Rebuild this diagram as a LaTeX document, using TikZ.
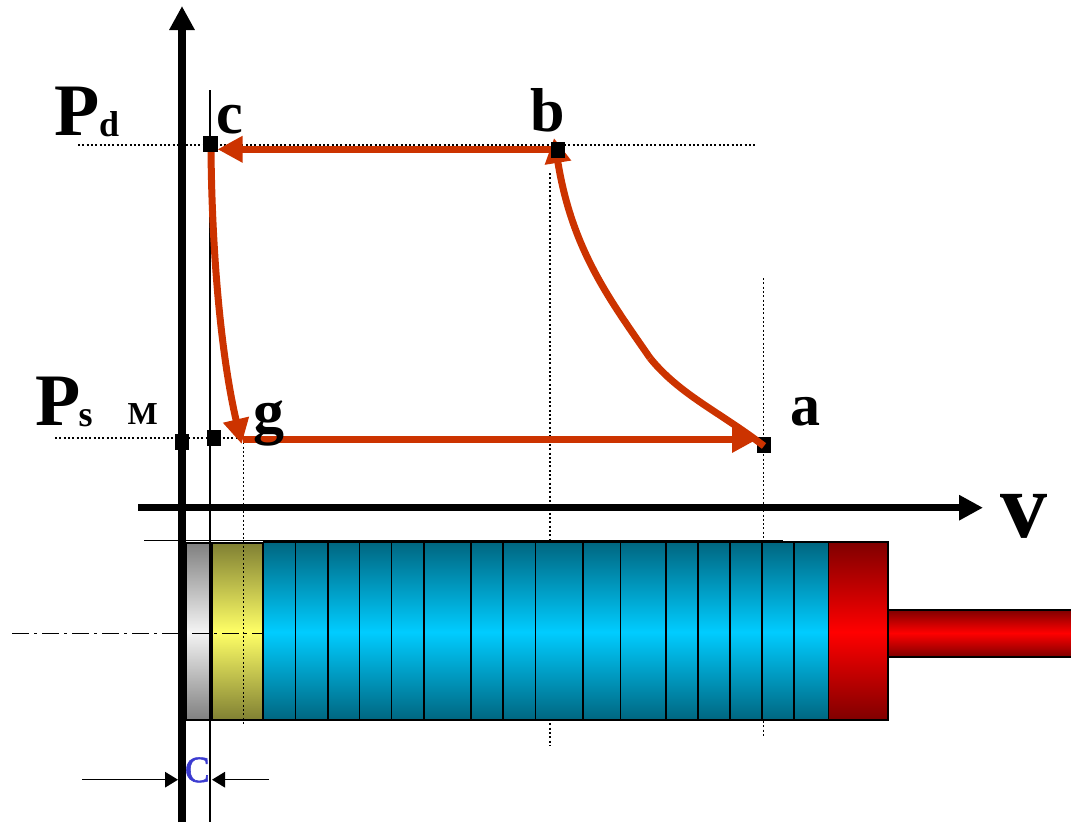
\documentclass[tikz,border=0pt]{standalone}
\usepackage{fontspec}
\setmainfont{Liberation Serif}
\newfontfamily\capfont[FakeBold=1.6]{Liberation Serif}
\usetikzlibrary{arrows.meta}
\definecolor{redline}{HTML}{CC3300}
\definecolor{labelblue}{HTML}{3B3BD0}
\definecolor{tealedge}{HTML}{006680}
\definecolor{tealmid}{HTML}{00CCFF}
\definecolor{yeledge}{HTML}{808033}
\definecolor{yelmid}{HTML}{FFFF66}
\definecolor{rededge}{HTML}{800000}
\definecolor{redmid}{HTML}{FF0000}
\definecolor{grayedge}{HTML}{808080}
\definecolor{graymid}{HTML}{F4F4F4}
\tikzset{
  lab/.style={inner sep=0pt,outer sep=0pt,anchor=base west,font=\bfseries\fontsize{#1}{#1}\selectfont},
  pointbox/.style={fill=black,inner sep=0pt,outer sep=0pt,minimum width=14.5pt,minimum height=16pt},
  axisline/.style={line width=7.4pt,-{Triangle[length=24pt,width=24pt]}},
  cycle line/.style={draw=redline,line width=7pt,-{Triangle[length=25pt,width=25pt]}},
  dotline/.style={line width=1.6pt,dash pattern=on 2pt off 2.3pt},
  thin line/.style={line width=1.5pt},
  dim line/.style={line width=1.5pt,-{Triangle[length=13pt,width=15.5pt]}},
}
\newcommand{\band}[5]{% x0, x1, y0, edge colour, mid colour
  \shade[top color=#4,bottom color=#5] (#1,#3) rectangle (#2,632);
  \shade[top color=#5,bottom color=#4] (#1,632) rectangle (#2,720);
  \draw[line width=1.7pt] (#1,#3) rectangle (#2,720);
}
\begin{document}
\begin{tikzpicture}[x=1pt,y=-1pt]
\useasboundingbox (0,0) rectangle (1071,822);
% named points
\coordinate (dpL) at (78,145);   \coordinate (dpR) at (757,145);
\coordinate (spL) at (55,438);   \coordinate (spR) at (243.5,438);
\coordinate (gB)  at (243.5,725);
\coordinate (bT)  at (550,173);  \coordinate (bB)  at (550,745);
\coordinate (aT)  at (763.5,278);\coordinate (aB)  at (763.5,737);
\coordinate (cT)  at (210,90);   \coordinate (cB)  at (210,822);
\coordinate (pL)  at (144,540.5);\coordinate (pR)  at (783,540.5);
\coordinate (clL) at (12,633.5); \coordinate (clR) at (263,633.5);
\coordinate (pyB) at (182,822);  \coordinate (pyT) at (182,6);
\coordinate (vL)  at (138,507.7);\coordinate (vR)  at (983,507.7);
\coordinate (dl)  at (82,779.7); \coordinate (dlT) at (178,779.7);
\coordinate (dr)  at (269,779.7);\coordinate (drT) at (212,779.7);
% guides behind the cylinder
\draw[dotline] (dpL) -- (dpR);
\draw[dotline] (spL) -- (spR);
\draw[dotline] (bT) -- (bB);
\draw[dotline] (aT) -- (aB);
\draw[thin line] (pL) -- (pR);
% rod
\shade[top color=rededge,bottom color=redmid] (887,610) rectangle (1071,633);
\shade[top color=redmid,bottom color=rededge] (887,633) rectangle (1071,656.7);
\draw[line width=1.7pt] (887,610) -- (1071,610) (887,656.7) -- (1071,656.7);
% cylinder
\band{186}{211}{543}{grayedge}{graymid}
\band{212}{263}{543}{yeledge}{yelmid}
\foreach \xa/\xb in {263.4/295.5,295.5/327.7,327.7/359.4,359.4/391.6,391.6/423.7,423.7/471.2,471.2/503.3,503.3/535.5,535.5/583.3,583.3/620.4,620.4/666,666/697.7,697.7/730,730/762,762/793.8,793.8/828.6}{
  \band{\xa}{\xb}{542}{tealedge}{tealmid}
}
\band{828.6}{887.7}{542}{rededge}{redmid}
% guides over the cylinder
\draw[dotline] (spR) -- (gB);
\draw[line width=1.5pt,dash pattern=on 16.5pt off 5.5pt on 2.5pt off 5.5pt] (clL) -- (clR);
% axes
\draw[axisline] (pyB) -- (pyT);
\draw[axisline] (vL) -- (vR);
\draw[thin line] (cT) -- (cB);
% points under the cycle
\node[pointbox] (ptA) at (764,445) {};
\node[pointbox] (ptM) at (182,442) {};
\node[pointbox] (ptG) at (214,438) {};
\coordinate (aIn) at (757,439.5);
\coordinate (gOut) at (243,439.5);
\coordinate (gTip) at (241.7,444);
\coordinate (bTip) at (554,138);
\coordinate (aOut) at (764,446);
\coordinate (abMid) at (650,358);
\coordinate (cOut) at (211,150);
\coordinate (bOut) at (556,149.3);
\coordinate (cIn) at (217.5,149.3);
% cycle
\draw[cycle line] (bOut) -- (cIn);
\draw[cycle line] (gOut) -- (aIn);
\draw[cycle line] (cOut) .. controls (212,260) and (222,360) .. (gTip);
\draw[draw=redline,line width=7pt] (aOut) .. controls (720,412) and (680,395) .. (abMid);
\draw[cycle line] (abMid) .. controls (610,300) and (572,250) .. (bTip);
\node[pointbox] (ptC) at (210.7,144) {};
\node[pointbox] (ptB) at (558,149.5) {};
% dimension arrows
\draw[dim line] (dl) -- (dlT);
\draw[dim line] (dr) -- (drT);
% labels
\node[lab=74] (lP1) at (54,135) {P};
\node[lab=36] (ld) at (99,136) {d};
\node[lab=74] (lP2) at (35,425.7) {P};
\node[lab=36] (ls) at (78.5,426) {s};
\node[lab=32] (lM) at (127.5,424) {M};
\node[lab=60] (lc) at (216,133) {c};
\node[lab=62] (lb) at (530,131) {b};
\node[lab=62] (lg) at (253,432) {g};
\node[lab=60] (la) at (790,425) {a};
\node[lab=94] (lv) at (1000,537) {v};
\node[inner sep=0pt,outer sep=0pt,anchor=base west,text=labelblue,font=\capfont\fontsize{37}{37}\selectfont] (lC) at (185,782) {C};
\end{tikzpicture}
\end{document}
